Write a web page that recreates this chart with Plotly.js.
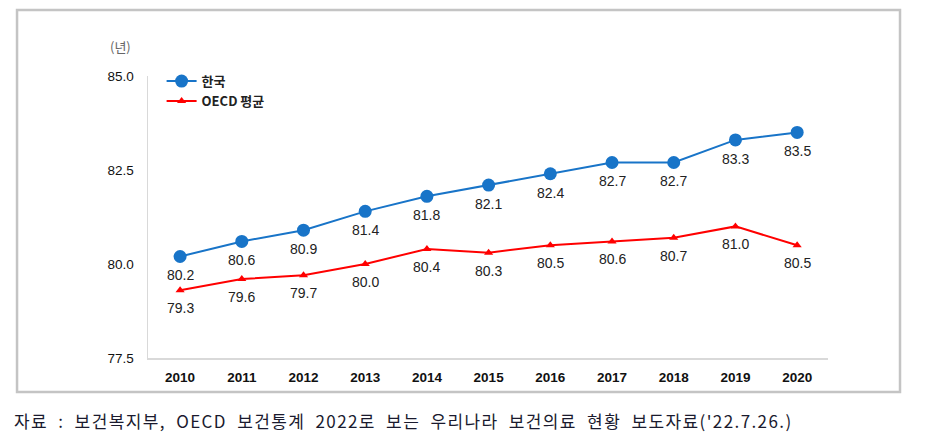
<!DOCTYPE html>
<html>
<head>
<meta charset="utf-8">
<script src="https://cdn.plot.ly/plotly-3.0.1.min.js"></script>
<style>html,body{margin:0;padding:0;background:#fff;}#chart{width:931px;height:444px;}</style>
</head>
<body>
<div id="chart"></div>
<script>
const years = ['2010','2011','2012','2013','2014','2015','2016','2017','2018','2019','2020'];
const korea = [80.2, 80.6, 80.9, 81.4, 81.8, 82.1, 82.4, 82.7, 82.7, 83.3, 83.5];
const oecd = [79.3, 79.6, 79.7, 80.0, 80.4, 80.3, 80.5, 80.6, 80.7, 81.0, 80.5];
const seriesNames = ['한국', 'OECD 평균'];
const yTicks = [77.5, 80.0, 82.5, 85.0];
const unitLabel = '(년)';
const sourceText = "자료 : 보건복지부, OECD 보건통계 2022로 보는 우리나라 보건의료 현황 보도자료('22.7.26.)";

const numFont = {family: 'Liberation Sans, Arial, sans-serif', size: 14, color: '#222'};
const traces = [
  {x: years, y: korea, name: seriesNames[0], type: 'scatter', mode: 'lines+markers',
   line: {color: '#1874C8', width: 2}, marker: {color: '#1874C8', size: 13, symbol: 'circle'}, cliponaxis: false},
  {x: years, y: oecd, name: seriesNames[1], type: 'scatter', mode: 'lines+markers',
   line: {color: '#FF0000', width: 2}, marker: {color: '#FF0000', size: 8, symbol: 'triangle-up'}, cliponaxis: false}
];

function labelAnns(xs, ys, shift) {
  return xs.map((x, i) => ({x: i, y: ys[i], xref: 'x', yref: 'y', text: ys[i].toFixed(1),
    showarrow: false, yshift: shift, xanchor: 'center', yanchor: 'middle', font: numFont}));
}

const layout = {
  width: 931, height: 444,
  margin: {l: 148, r: 103, t: 76, b: 86},
  paper_bgcolor: '#fff', plot_bgcolor: '#fff',
  showlegend: true,
  legend: {x: 0.02, y: 1.035, xanchor: 'left', yanchor: 'top', bgcolor: 'rgba(0,0,0,0)',
           font: {family: 'Noto Sans CJK KR, sans-serif', size: 13, color: '#222', weight: 'bold'},
           tracegroupgap: 2, itemwidth: 30},
  xaxis: {type: 'category', range: [-0.52, 10.5], showgrid: false, zeroline: false,
          showline: true, linecolor: '#d9d9d9', linewidth: 1.5, ticks: '',
          ticklabelstandoff: 6,
          tickfont: {family: 'Liberation Sans, Arial, sans-serif', size: 13.5, color: '#111', weight: 'bold'}},
  yaxis: {range: [77.5, 85], tickvals: yTicks, ticktext: yTicks.map(v => v.toFixed(1)),
          showgrid: false, zeroline: false, showline: true, linecolor: '#d9d9d9', linewidth: 1.5,
          ticks: '', ticklabelstandoff: 10,
          tickfont: {family: 'Liberation Sans, Arial, sans-serif', size: 13.5, color: '#111'}},
  shapes: [
    {type: 'rect', xref: 'paper', yref: 'paper', x0: -0.1926, x1: 1.1059, y0: -0.1206, y1: 1.234,
     line: {color: '#c4c4c4', width: 2.5}, fillcolor: 'rgba(0,0,0,0)', layer: 'below'}
  ],
  annotations: labelAnns(years, korea, -19).concat(labelAnns(years, oecd, -18)).concat([
    {text: unitLabel, xref: 'paper', yref: 'paper', x: (120 - 148) / 680, y: (358 - 47) / 282,
     xanchor: 'center', yanchor: 'middle', showarrow: false,
     font: {family: 'Noto Sans CJK KR, sans-serif', size: 13, color: '#666'}},
    {text: '<span style="letter-spacing:1.4px;word-spacing:5px">' + sourceText + '</span>',
     xref: 'paper', yref: 'paper', x: (12 - 148) / 680, y: (358 - 420) / 282,
     xanchor: 'left', yanchor: 'middle', showarrow: false,
     font: {family: 'Noto Sans CJK KR, sans-serif', size: 17, color: '#1a1a2e'}}
  ])
};

Plotly.newPlot('chart', traces, layout, {displayModeBar: false, staticPlot: true});
</script>
</body>
</html>
